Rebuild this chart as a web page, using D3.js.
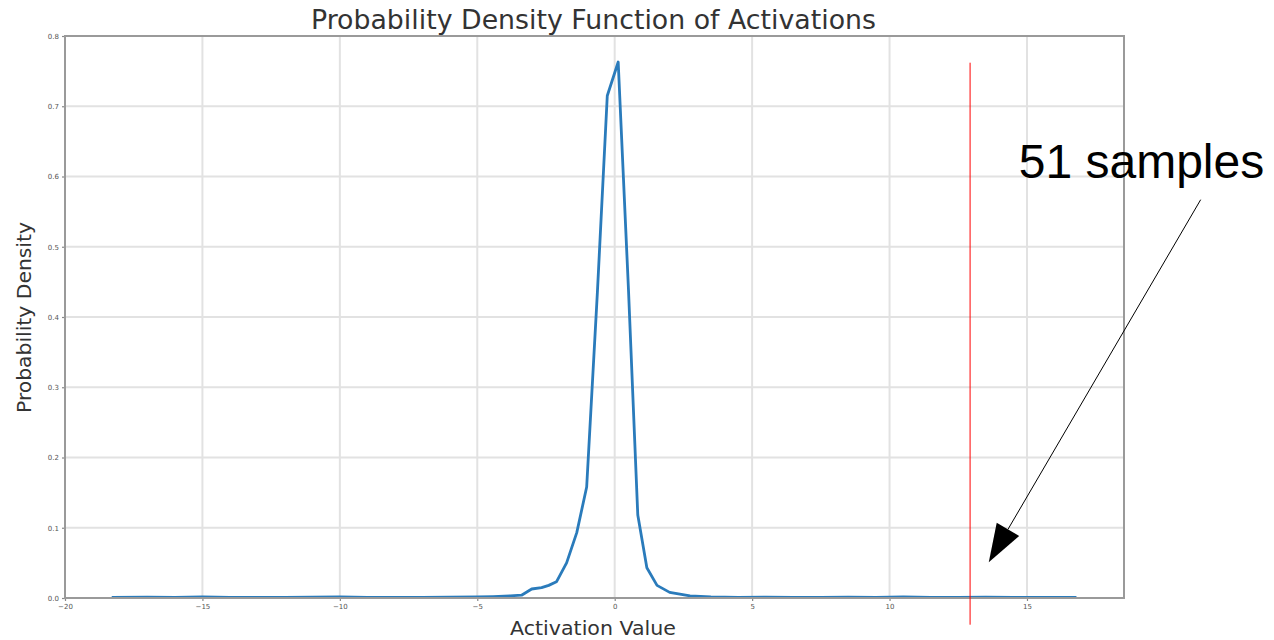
<!DOCTYPE html>
<html>
<head>
<meta charset="utf-8">
<script src="https://cdnjs.cloudflare.com/ajax/libs/d3/7.8.5/d3.min.js"></script>
<style>
  html, body { margin: 0; padding: 0; background: #fff; }
  svg { display: block; }
</style>
</head>
<body>
<svg id="chart" width="1274" height="640"></svg>
<script>
// ---- data ----
const activationX = [-18.3, -17.0, -16.0, -15.0, -14.0, -13.0, -12.0, -11.0, -10.0, -9.0, -8.0, -7.0, -6.0, -5.0,
  -4.43, -3.8, -3.39, -3.02, -2.66, -2.4, -2.12, -1.75, -1.38, -1.02, -0.63, -0.27, 0.127, 0.5, 0.84, 1.17, 1.54, 2.0, 2.74, 3.5,
  4.5, 5.5, 6.5, 7.5, 8.5, 9.5, 10.5, 11.5, 12.5, 13.5, 14.5, 15.5, 16.8];
const densityY = [0.001, 0.0012, 0.0008, 0.0015, 0.001, 0.0008, 0.001, 0.0012, 0.0015, 0.001, 0.0008, 0.001, 0.0012, 0.0015,
  0.002, 0.003, 0.004, 0.0128, 0.0147, 0.018, 0.023, 0.05, 0.093, 0.158, 0.435, 0.715, 0.763, 0.44, 0.118, 0.043, 0.018, 0.008, 0.003, 0.0015,
  0.001, 0.0012, 0.001, 0.0008, 0.0012, 0.001, 0.0015, 0.001, 0.0008, 0.0012, 0.001, 0.0008, 0.001];
const xTicks = [-20, -15, -10, -5, 0, 5, 10, 15];
const yTicks = [0.0, 0.1, 0.2, 0.3, 0.4, 0.5, 0.6, 0.7, 0.8];
const titleText = "Probability Density Function of Activations";
const xLabel = "Activation Value";
const yLabel = "Probability Density";
const markerX = 12.93;              // red vertical marker
const markerYRange = [-0.038, 0.762];
const annotationText = "51 samples";
const annotationTextPos = [14.70, 0.598];
const arrowFrom = [21.32, 0.567];
const arrowTo = [13.61, 0.051];

// ---- layout ----
const svg = d3.select("#chart");
const mLeft = 65, mRight = 1124, mTop = 36, mBottom = 598;
const x = d3.scaleLinear().domain([-20, 18.53]).range([mLeft, mRight]);
const y = d3.scaleLinear().domain([0, 0.8]).range([mBottom, mTop]);

// grid
const grid = svg.append("g");
grid.selectAll("line.gx").data(xTicks).enter().append("line")
  .attr("x1", d => x(d)).attr("x2", d => x(d)).attr("y1", mTop).attr("y2", mBottom)
  .attr("stroke", "#e2e2e2").attr("stroke-width", 2);
grid.selectAll("line.gy").data(yTicks).enter().append("line")
  .attr("x1", mLeft).attr("x2", mRight).attr("y1", d => y(d)).attr("y2", d => y(d))
  .attr("stroke", "#e2e2e2").attr("stroke-width", 2);

// axes
const fmtX = d => (d < 0 ? "\u2212" + Math.abs(d) : String(d));
const xAxis = d3.axisBottom(x).tickValues(xTicks).tickFormat(fmtX).tickSize(3).tickPadding(3);
const yAxis = d3.axisLeft(y).tickValues(yTicks).tickFormat(d3.format(".1f")).tickSize(3).tickPadding(3);
const gx = svg.append("g").attr("transform", `translate(0,${mBottom})`).call(xAxis);
const gy = svg.append("g").attr("transform", `translate(${mLeft},0)`).call(yAxis);
[gx, gy].forEach(g => {
  g.select(".domain").remove();
  g.selectAll(".tick line").attr("stroke", "#888").attr("stroke-width", 1.2);
  g.selectAll(".tick text").attr("fill", "#555").style("font-family", "DejaVu Sans").style("font-size", "7px");
});

// curve
const pts = activationX.map((v, i) => [v, densityY[i]]);
svg.append("path").datum(pts)
  .attr("fill", "none").attr("stroke", "#2a7bbb").attr("stroke-width", 2.8)
  .attr("stroke-linejoin", "round")
  .attr("d", d3.line().x(d => x(d[0])).y(d => y(d[1])));

// frame
svg.append("rect").attr("x", mLeft).attr("y", mTop).attr("width", mRight - mLeft).attr("height", mBottom - mTop)
  .attr("fill", "none").attr("stroke", "#9a9a9a").attr("stroke-width", 2);

// title & labels
svg.append("text").attr("x", 593.5).attr("y", 29).attr("text-anchor", "middle")
  .attr("textLength", 565).attr("lengthAdjust", "spacingAndGlyphs")
  .style("font-family", "DejaVu Sans").style("font-size", "26px").attr("fill", "#333").text(titleText);
svg.append("text").attr("x", 593).attr("y", 635).attr("text-anchor", "middle")
  .attr("textLength", 166).attr("lengthAdjust", "spacingAndGlyphs")
  .style("font-family", "DejaVu Sans").style("font-size", "20px").attr("fill", "#333").text(xLabel);
svg.append("text").attr("transform", `translate(31,317.5) rotate(-90)`).attr("text-anchor", "middle")
  .attr("textLength", 191).attr("lengthAdjust", "spacingAndGlyphs")
  .style("font-family", "DejaVu Sans").style("font-size", "20px").attr("fill", "#333").text(yLabel);

// red marker line
svg.append("line").attr("x1", x(markerX)).attr("x2", x(markerX))
  .attr("y1", y(markerYRange[1])).attr("y2", y(markerYRange[0]))
  .attr("stroke", "#ff0000").attr("stroke-width", 1);

// annotation text
svg.append("text").attr("x", x(annotationTextPos[0])).attr("y", y(annotationTextPos[1]))
  .style("font-family", "Liberation Sans").style("font-size", "48px").attr("fill", "#000").text(annotationText);

// arrow
const ax1 = x(arrowFrom[0]), ay1 = y(arrowFrom[1]), ax2 = x(arrowTo[0]), ay2 = y(arrowTo[1]);
const ang = Math.atan2(ay2 - ay1, ax2 - ax1);
const headLen = 38, headHalf = 13;
const bx = ax2 - headLen * Math.cos(ang), by = ay2 - headLen * Math.sin(ang);
svg.append("line").attr("x1", ax1).attr("y1", ay1).attr("x2", bx).attr("y2", by)
  .attr("stroke", "#000").attr("stroke-width", 1);
const px = -Math.sin(ang), py = Math.cos(ang);
svg.append("path")
  .attr("d", `M${ax2},${ay2} L${bx + headHalf * px},${by + headHalf * py} L${bx - headHalf * px},${by - headHalf * py} Z`)
  .attr("fill", "#000");
</script>
</body>
</html>
